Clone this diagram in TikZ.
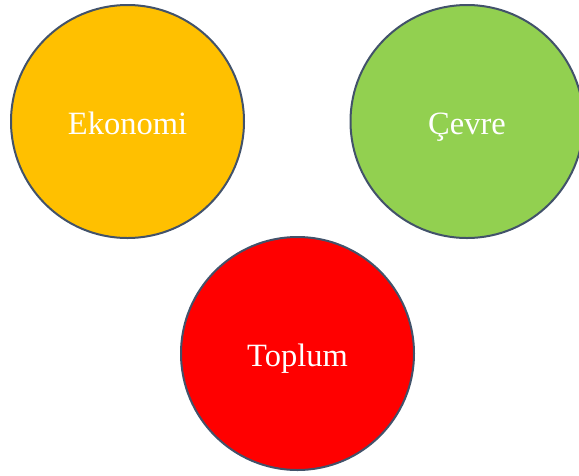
\documentclass[tikz,border=0pt]{standalone}
\usepackage{fontspec}
\setmainfont{Liberation Serif}
\definecolor{ringline}{HTML}{42526A}
\definecolor{ecofill}{HTML}{FFC000}
\definecolor{envfill}{HTML}{92D050}
\definecolor{socfill}{HTML}{FF0000}
\tikzset{
  pillar/.style={circle, draw=ringline, line width=2pt, minimum size=233pt, inner sep=0pt},
  pillarlabel/.style={text=white, font=\fontsize{32.5}{36}\selectfont, anchor=base, inner sep=0pt}
}
\begin{document}
\begin{tikzpicture}[x=1pt, y=-1pt]
  \useasboundingbox (0,0) rectangle (579,475);
  \node[pillar, fill=ecofill] (eko) at (127.5,121.5) {};
  \node[pillar, fill=envfill] (cev) at (467,121.5) {};
  \node[pillar, fill=socfill] (top) at (297.5,353.5) {};
  \node[pillarlabel] (ekot) at ([yshift=-12.8pt]eko.center) {Ekonomi};
  \node[pillarlabel] (cevt) at ([yshift=-12.8pt]cev.center) {Çevre};
  \node[pillarlabel] (topt) at ([yshift=-12.8pt]top.center) {Toplum};
\end{tikzpicture}
\end{document}
